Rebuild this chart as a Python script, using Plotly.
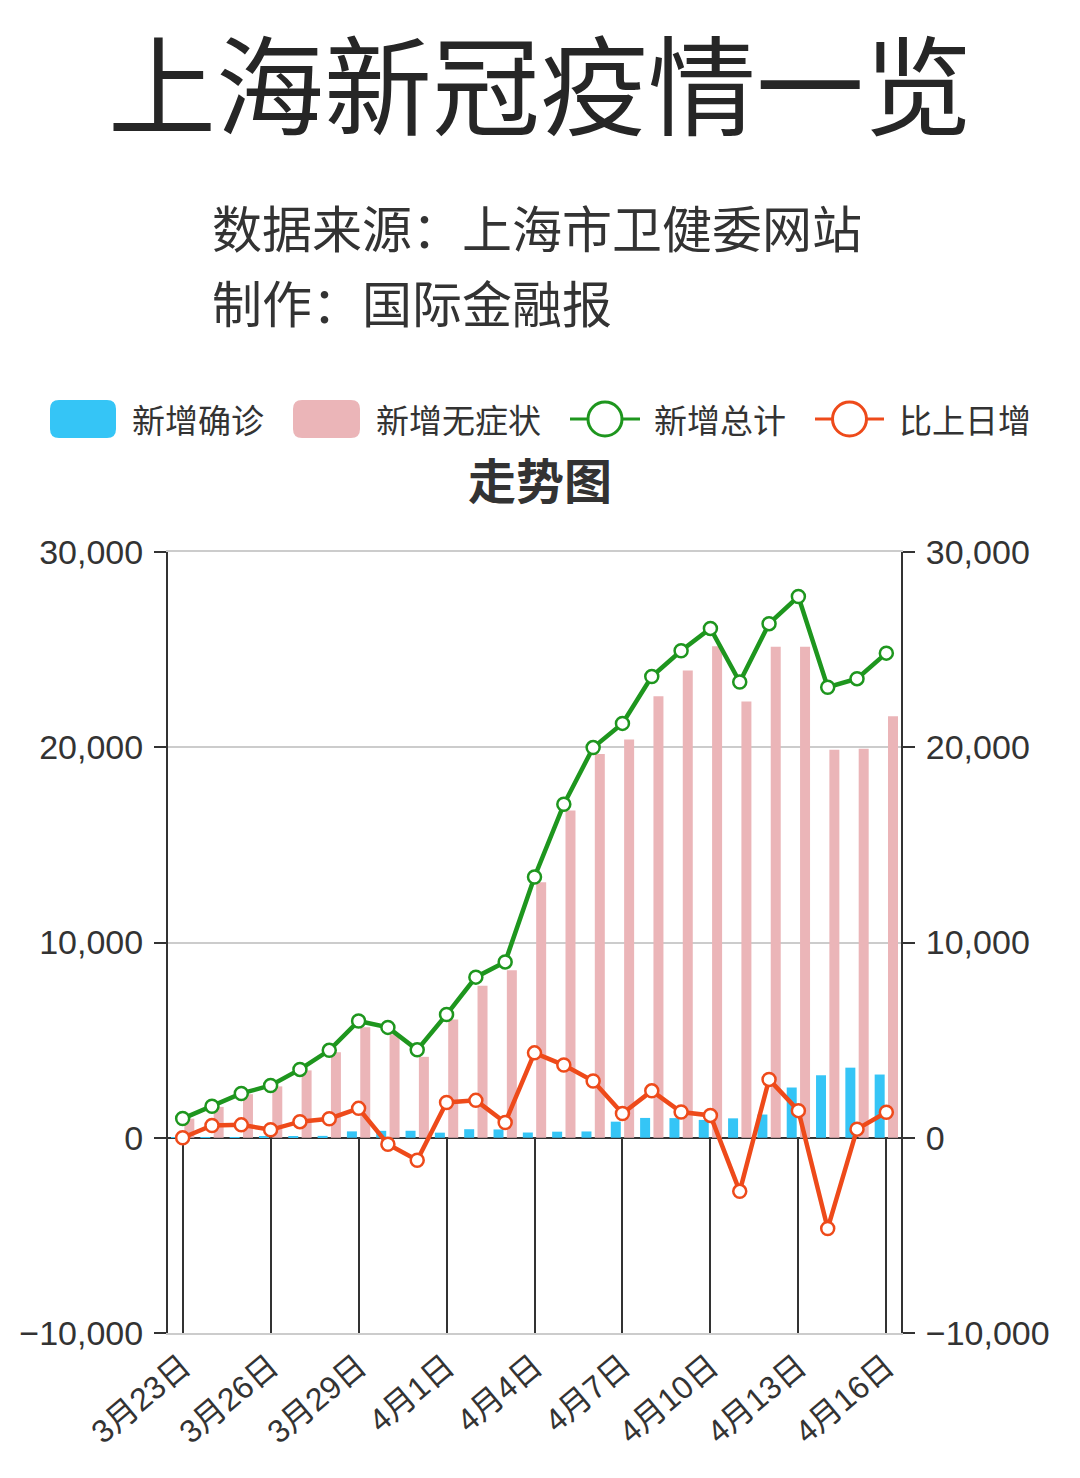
import plotly.graph_objects as go

# data (上海市卫健委, 3月23日 - 4月16日)
dates = ["3月23日", "3月24日", "3月25日", "3月26日", "3月27日", "3月28日", "3月29日",
         "3月30日", "3月31日", "4月1日", "4月2日", "4月3日", "4月4日", "4月5日",
         "4月6日", "4月7日", "4月8日", "4月9日", "4月10日", "4月11日", "4月12日",
         "4月13日", "4月14日", "4月15日", "4月16日"]
confirmed = [4, 29, 38, 45, 50, 96, 326, 355, 358, 260, 438, 425, 268, 311, 322,
             824, 1015, 1006, 914, 994, 1189, 2573, 3200, 3590, 3238]
asymptomatic = [979, 1580, 2231, 2631, 3450, 4381, 5656, 5298, 4144, 6051, 7788, 8581,
                13086, 16766, 19660, 20398, 22609, 23937, 25173, 22348, 25141, 25146,
                19872, 19923, 21582]
total = [983, 1609, 2269, 2676, 3500, 4477, 5982, 5653, 4502, 6311, 8226, 9006, 13354,
         17077, 19982, 21222, 23624, 24943, 26087, 23342, 26330, 27719, 23072, 23513, 24820]
delta = [2, 626, 660, 407, 824, 977, 1505, -329, -1151, 1809, 1915, 780, 4348, 3723,
         2905, 1240, 2402, 1319, 1144, -2745, 2988, 1389, -4647, 441, 1307]
tick_dates = dates[::3]
y_ticks = [-10000, 0, 10000, 20000, 30000]

BLUE = "#35c5f6"
PINK = "#ebb5b8"
GREEN = "#1e961e"
ORANGE = "#ee4a1a"
FONT = "Liberation Sans, Arial, Noto Sans CJK SC, sans-serif"
CJK = "Noto Sans CJK SC, sans-serif"

W, H = 1080, 1478
L, R, T, B = 168, 901, 552, 1333


def px(x):
    return (x - L) / (R - L)


def py(y):
    return (B - y) / (B - T)


fig = go.Figure()
fig.add_trace(go.Bar(x=dates, y=confirmed, name="新增确诊", marker=dict(color=BLUE, line_width=0)))
fig.add_trace(go.Bar(x=dates, y=asymptomatic, name="新增无症状", marker=dict(color=PINK, line_width=0)))
fig.add_trace(go.Scatter(x=dates, y=total, name="新增总计", mode="lines+markers", yaxis="y2",
                         line=dict(color=GREEN, width=4.5),
                         marker=dict(size=13, color="white", line=dict(color=GREEN, width=2.5))))
fig.add_trace(go.Scatter(x=dates, y=delta, name="比上日增", mode="lines+markers", yaxis="y2",
                         line=dict(color=ORANGE, width=4.5),
                         marker=dict(size=13, color="white", line=dict(color=ORANGE, width=2.5))))

axis_common = dict(range=[-10000, 30000], tickvals=y_ticks, tickformat=",",
                   showline=True, linecolor="#333", linewidth=2,
                   ticks="outside", ticklen=12, tickwidth=2, tickcolor="#333",
                   ticklabelstandoff=4,
                   tickfont=dict(family=FONT, size=34, color="#333"))

fig.update_layout(
    width=W, height=H,
    margin=dict(l=L, r=W - R, t=T, b=H - B, autoexpand=False),
    plot_bgcolor="white", paper_bgcolor="white",
    showlegend=False,
    barmode="group", bargap=0.09, bargroupgap=0.25,
    xaxis=dict(type="category", range=[-0.5, len(dates) - 0.5],
               tickvals=tick_dates, ticktext=tick_dates,
               tickangle=-40, ticks="inside", ticklen=195, tickwidth=2, tickcolor="#333",
               showline=True, linecolor="#cccccc", linewidth=2, mirror=True,
               showgrid=False, layer="below traces",
               tickfont=dict(family=FONT, size=32, color="#333")),
    yaxis=dict(**axis_common, showgrid=True, gridcolor="#cccccc", gridwidth=2,
               zeroline=True, zerolinecolor="#333", zerolinewidth=2),
    yaxis2=dict(**axis_common, overlaying="y", side="right", showgrid=False, zeroline=False),
)

# titles
titles = [
    ("上海新冠疫情一览", 540, 0, "center", "top", 108, "#262626"),
    ("数据来源：上海市卫健委网站", 210, 226, "left", "middle", 50, "#333"),
    ("制作：国际金融报", 210, 301, "left", "middle", 50, "#333"),
    ("<b>走势图</b>", 540, 478, "center", "middle", 48, "#333"),
]
for text, x, y, anchor, vanchor, size, col in titles:
    fig.add_annotation(x=px(x), y=py(y), xref="paper", yref="paper", text=text,
                       xanchor=anchor, yanchor=vanchor, showarrow=False,
                       font=dict(family=CJK, size=size, color=col))


# legend drawn by hand (large rounded swatches)
def rounded_rect(x0, y0, x1, y1, r):
    rx = r / (R - L)
    ry = r / (B - T)
    a, b, c, d = px(x0), py(y1), px(x1), py(y0)
    return (f"M {a+rx},{b} L {c-rx},{b} Q {c},{b} {c},{b+ry} L {c},{d-ry} Q {c},{d} {c-rx},{d} "
            f"L {a+rx},{d} Q {a},{d} {a},{d-ry} L {a},{b+ry} Q {a},{b} {a+rx},{b} Z")


leg_y = 419
swatches = [(50, 116, BLUE, "新增确诊", 130), (293, 360, PINK, "新增无症状", 374)]
for x0, x1, col, label, tx in swatches:
    fig.add_shape(type="path", xref="paper", yref="paper",
                  path=rounded_rect(x0, leg_y - 19, x1, leg_y + 19, 9),
                  fillcolor=col, line_width=0)
    fig.add_annotation(x=px(tx), y=py(leg_y), xref="paper", yref="paper", text=label,
                       xanchor="left", yanchor="middle", showarrow=False,
                       font=dict(family=CJK, size=33, color="#333"))

for x0, x1, col, label, tx in [(570, 640, GREEN, "新增总计", 652), (815, 884, ORANGE, "比上日增", 897)]:
    cx = (x0 + x1) / 2
    fig.add_shape(type="line", xref="paper", yref="paper", x0=px(x0), x1=px(x1),
                  y0=py(leg_y), y1=py(leg_y), line=dict(color=col, width=3))
    fig.add_shape(type="circle", xref="paper", yref="paper", x0=px(cx - 17), x1=px(cx + 17),
                  y0=py(leg_y - 17), y1=py(leg_y + 17), fillcolor="white", line=dict(color=col, width=3))
    fig.add_annotation(x=px(tx), y=py(leg_y), xref="paper", yref="paper", text=label,
                       xanchor="left", yanchor="middle", showarrow=False,
                       font=dict(family=CJK, size=33, color="#333"))

fig.write_html("out.html", config={"displayModeBar": False},
               post_script="document.body.style.margin='0';")
